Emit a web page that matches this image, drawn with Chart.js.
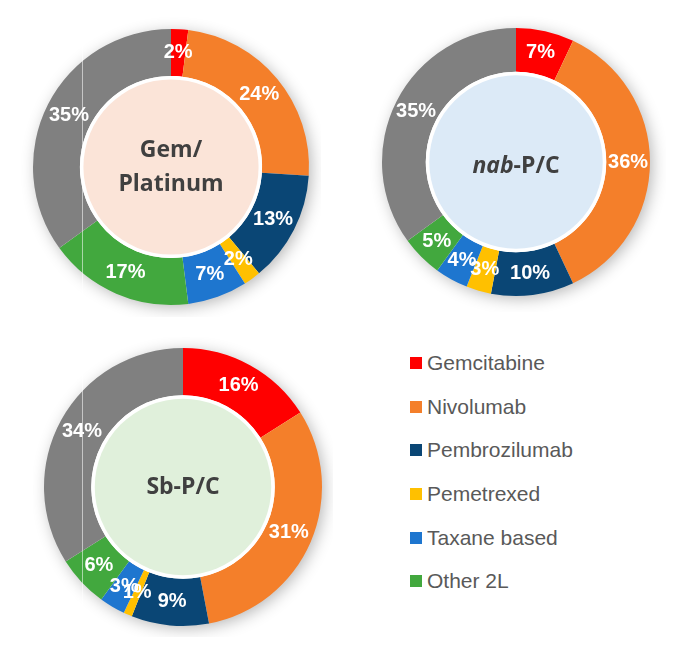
<!DOCTYPE html>
<html>
<head>
<meta charset="utf-8">
<script src="https://cdn.jsdelivr.net/npm/chart.js@4/dist/chart.umd.min.js"></script>
<style>
  html, body { margin: 0; padding: 0; background: #ffffff; }
  #wrap { position: relative; width: 679px; height: 650px; overflow: hidden; }
  .pie { position: absolute; width: 300px; height: 300px; }
  .legend { position: absolute; left: 410px; top: 341px; font-family: "Liberation Sans", Arial, sans-serif; font-size: 21px; color: #595959; }
  .legend .row { height: 43.7px; display: flex; align-items: center; }
  .legend .sw { width: 12px; height: 12px; margin-right: 5px; flex: none; }
  .seam { position: absolute; left: 82px; width: 1px; background: rgba(255,255,255,0.55); }
</style>
</head>
<body>
<div id="wrap">
  <div class="pie" style="left:21px;top:17px"><canvas id="c1" width="300" height="300"></canvas></div>
  <div class="pie" style="left:366px;top:12px"><canvas id="c2" width="300" height="300"></canvas></div>
  <div class="pie" style="left:33px;top:337px"><canvas id="c3" width="300" height="300"></canvas></div>
  <div class="seam" style="top:22px;height:276px"></div>
  <div class="seam" style="top:342px;height:276px"></div>
  <div class="legend" id="legend"></div>
</div>
<script>
// ---- data ----
const categories = ["Gemcitabine", "Nivolumab", "Pembrozilumab", "Pemetrexed", "Taxane based", "Other 2L", "None"];
const gemPlatinum = [2, 24, 13, 2, 7, 17, 35];
const nabPC = [7, 36, 10, 3, 4, 5, 35];
const sbPC = [16, 31, 9, 1, 3, 6, 34];
const colors = ["#FF0000", "#F47F2A", "#0A4675", "#FFC000", "#1E76CF", "#42A83E", "#808080"];
const legendCount = 6;

// ---- center label plugin + inner fill + shadow ----
const decor = {
  id: 'decor',
  beforeDatasetsDraw(chart) {
    const meta = chart.getDatasetMeta(0);
    const arc = meta.data[0];
    const cx = arc.x, cy = arc.y, R = arc.outerRadius;
    const ctx = chart.ctx;
    ctx.save();
    ctx.shadowColor = 'rgba(0,0,0,0.30)';
    ctx.shadowBlur = 16;
    ctx.shadowOffsetX = 3;
    ctx.shadowOffsetY = 3;
    ctx.beginPath();
    ctx.arc(cx, cy, R - 1, 0, Math.PI * 2);
    ctx.fillStyle = '#ffffff';
    ctx.fill();
    ctx.restore();
  },
  afterDatasetsDraw(chart) {
    const o = chart.options.plugins.decor;
    const meta = chart.getDatasetMeta(0);
    const ds = chart.data.datasets[0];
    const arc0 = meta.data[0];
    const cx = arc0.x, cy = arc0.y, r = arc0.innerRadius;
    const ctx = chart.ctx;
    ctx.save();
    ctx.beginPath();
    ctx.arc(cx, cy, r, 0, Math.PI * 2);
    ctx.fillStyle = '#ffffff';
    ctx.fill();
    ctx.beginPath();
    ctx.arc(cx, cy, r - o.gap, 0, Math.PI * 2);
    ctx.fillStyle = o.fill;
    ctx.fill();
    // percentage labels
    ctx.fillStyle = '#ffffff';
    ctx.font = 'bold 20px "Liberation Sans", Arial, sans-serif';
    ctx.textAlign = 'center';
    ctx.textBaseline = 'middle';
    meta.data.forEach((a, i) => {
      const p = a.getCenterPoint();
      ctx.fillText(ds.data[i] + '%', p.x, p.y);
    });
    // center title
    ctx.fillStyle = '#404040';
    ctx.textBaseline = 'middle';
    ctx.textAlign = 'left';
    const lines = o.title;
    const lh = 34;
    lines.forEach((segs, li) => {
      const y = cy + o.dy + (li - (lines.length - 1) / 2) * lh;
      let w = 0;
      segs.forEach(s => { ctx.font = (s.italic ? 'italic ' : '') + 'bold 23px "Open Sans", sans-serif'; w += ctx.measureText(s.t).width; });
      let x = cx - w / 2;
      segs.forEach(s => { ctx.font = (s.italic ? 'italic ' : '') + 'bold 23px "Open Sans", sans-serif'; ctx.fillText(s.t, x, y); x += ctx.measureText(s.t).width; });
    });
    ctx.restore();
  }
};

function makeChart(id, values, radius, cutout, gap, fill, title, dy) {
  return new Chart(document.getElementById(id), {
    type: 'doughnut',
    data: { labels: categories, datasets: [{ data: values, backgroundColor: colors, borderWidth: 0, hoverOffset: 0 }] },
    options: {
      responsive: false,
      animation: false,
      radius: radius,
      cutout: cutout,
      layout: { padding: 0 },
      events: [],
      plugins: {
        legend: { display: false },
        tooltip: { enabled: false },
        decor: { gap: gap, fill: fill, title: title, dy: dy }
      }
    },
    plugins: [decor]
  });
}

makeChart('c1', gemPlatinum, 138, 99, 3.5, '#FBE4D8', [[{ t: 'Gem/' }], [{ t: 'Platinum' }]], 0);
makeChart('c2', nabPC, 134, 101, 3.5, '#DCEAF7', [[{ t: 'nab', italic: true }, { t: '-P/C' }]], 4);
makeChart('c3', sbPC, 139, 99, 3.5, '#E0F0DB', [[{ t: 'Sb-P/C' }]], 0);

// ---- legend ----
const lg = document.getElementById('legend');
for (let i = 0; i < legendCount; i++) {
  const row = document.createElement('div');
  row.className = 'row';
  const sw = document.createElement('span');
  sw.className = 'sw';
  sw.style.background = colors[i];
  const tx = document.createElement('span');
  tx.textContent = categories[i];
  row.appendChild(sw); row.appendChild(tx);
  lg.appendChild(row);
}
</script>
</body>
</html>
